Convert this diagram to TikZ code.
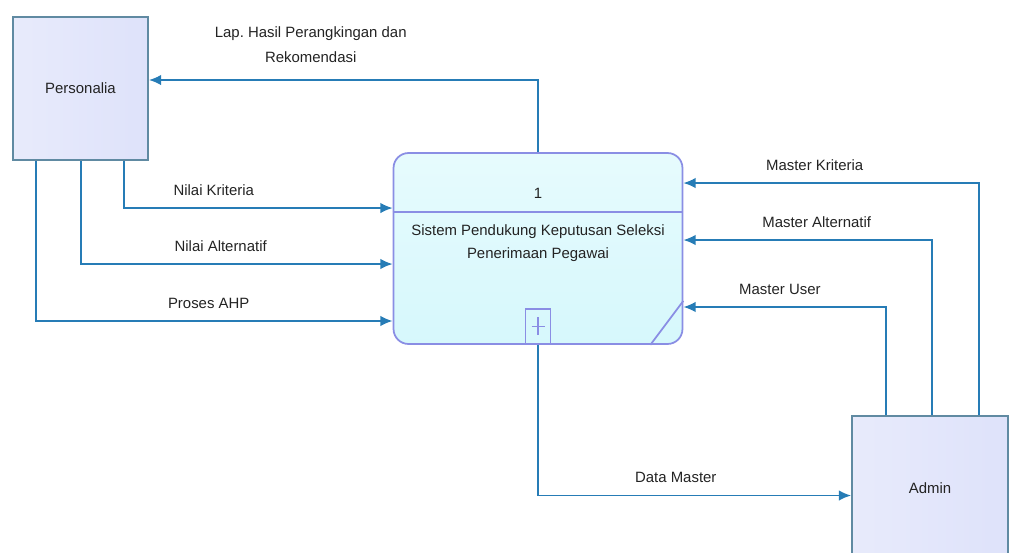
\documentclass[tikz,border=0pt]{standalone}
\usepackage{fontspec}
\setmainfont{Liberation Sans}
\usepackage{tikz}
\usetikzlibrary{arrows.meta}
\usetikzlibrary{positioning}
\tikzset{font={\fontsize{8.5pt}{11}\selectfont}}
\usepackage{xcolor}
\frenchspacing
\definecolor{flowblue}{RGB}{38,124,182}
\definecolor{entline}{RGB}{96,138,162}
\definecolor{entfill}{RGB}{222,226,250}
\definecolor{procline}{RGB}{138,142,228}
\definecolor{procfill}{RGB}{214,248,252}
\definecolor{txt}{RGB}{35,35,35}

\begin{document}
\begin{tikzpicture}[x=0.02cm,y=-0.02cm,
entity/.style={draw=entline,line width=1pt,left color=entfill!70!white,right color=entfill,text=txt,inner sep=0pt},
process/.style={draw=procline,line width=1pt,rounded corners=0.3cm,top color=procfill!60!white,bottom color=procfill,minimum width=5.78cm,minimum height=3.82cm},
flow/.style={draw=flowblue,line width=1pt,-{Latex[length=7pt,width=6pt]}},
lbl/.style={text=txt,inner sep=1pt}
]
\useasboundingbox (0,0) rectangle (1010,552);
\clip (0,0) rectangle (1010,552);

\node[entity,minimum width=2.7cm,minimum height=2.86cm] (pers) at (80.5,88.5) {Personalia};
\node[entity,minimum width=3.12cm,minimum height=2.9cm] (admin) at (930,488.5) {Admin};
\node[process] (proc) at (538,248.5) {};

% isi proses
\draw[procline,line width=1pt] ([yshift=-1.2cm]proc.north west) -- ([yshift=-1.2cm]proc.north east);
\node[lbl] (procid) at (538,193) {1};
\node[lbl,align=center] (procname) at (538,243) {Sistem Pendukung Keputusan Seleksi\\[2pt]Penerimaan Pegawai};
\node[draw=procline,line width=1pt,minimum width=0.5cm,minimum height=0.7cm,inner sep=0pt,anchor=south] (plus) at (proc.south) {};
\draw[procline,line width=0.8pt] ([yshift=0.18cm]plus.center) -- ([yshift=-0.18cm]plus.center)
  ([xshift=-0.13cm]plus.center) -- ([xshift=0.13cm]plus.center);
\draw[procline,line width=1pt] ([xshift=-0.66cm]proc.south east) -- ([yshift=0.88cm]proc.south east);

% aliran data
\draw[flow] (proc.north) |- ([yshift=0.17cm]pers.east)
  node[lbl,pos=0.792,above=0.3cm,align=center] {Lap. Hasil Perangkingan dan\\[3pt]Rekomendasi};
\draw[flow] ([xshift=2.24cm]pers.south west) |- ([yshift=0.81cm]proc.west)
  node[lbl,pos=0.667,above=0.2cm] {Nilai Kriteria};
\draw[flow] ([xshift=1.38cm]pers.south west) |- ([yshift=-0.31cm]proc.west)
  node[lbl,pos=0.724,above=0.2cm] {Nilai Alternatif};
\draw[flow] ([xshift=0.48cm]pers.south west) |- ([yshift=-1.45cm]proc.west)
  node[lbl,pos=0.742,above=0.2cm] {Proses AHP};

\draw[flow] ([xshift=2.56cm]admin.north west) |- ([yshift=1.31cm]proc.east)
  node[lbl,pos=0.778,above=0.2cm] {Master Kriteria};
\draw[flow] ([xshift=1.62cm]admin.north west) |- ([yshift=0.17cm]proc.east)
  node[lbl,pos=0.732,above=0.2cm] {Master Alternatif};
\draw[flow] ([xshift=0.7cm]admin.north west) |- ([yshift=-1.17cm]proc.east)
  node[lbl,pos=0.762,above=0.2cm] {Master User};
\draw[flow] (proc.south) |- ([yshift=-0.14cm]admin.west)
  node[lbl,pos=0.72,above=0.2cm] {Data Master};

\end{tikzpicture}
\end{document}
